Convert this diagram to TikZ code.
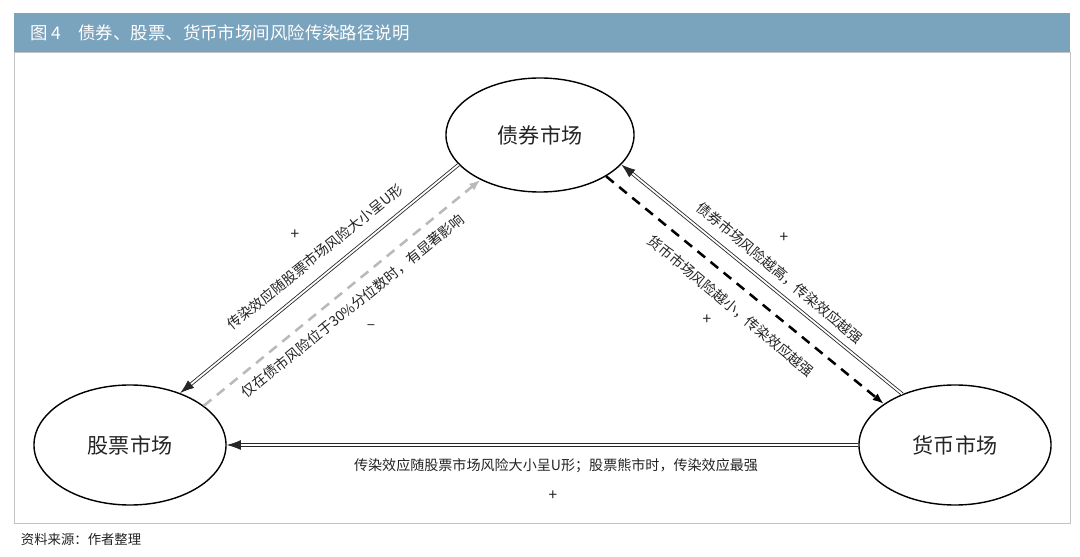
\documentclass[tikz,border=0pt]{standalone}
\usepackage{fontspec}
\setmainfont{Noto Sans CJK SC}
\usetikzlibrary{arrows.meta,positioning,calc,shapes.geometric}
\definecolor{barblue}{RGB}{122,163,190}
\definecolor{txtgray}{RGB}{35,35,35}
\definecolor{framegray}{RGB}{195,195,195}

\begin{document}
\begin{tikzpicture}[
		x=0.025cm, y=-0.025cm,
		>=Latex,
		market/.style={draw, ellipse, line width=1pt, text=txtgray, minimum width=4.8cm, minimum height=3cm, font=\fontsize{15}{18}\selectfont},
		link/.style={double, double distance=1.3pt, line width=0.6pt, draw=black!85, -{Latex[length=10pt,width=7pt]}},
		dlink/.style={dash pattern=on 7pt off 5pt, line width=1.8pt, -{Latex[length=8pt,width=6pt]}},
		lbl/.style={text=txtgray, inner sep=1pt, font=\fontsize{10}{12}\selectfont},
		sgn/.style={text=txtgray, inner sep=1pt, font=\fontsize{11}{12}\selectfont}
		]
		\useasboundingbox (0,0) rectangle (1080,557);
		
		% Title bar and frame
		\fill[barblue] (14,13) rectangle (1070,52);
		\draw[framegray, line width=0.6pt] (14,52) rectangle (1070,523);
		\node[anchor=west, text=white, font=\fontsize{12.4}{14}\selectfont] (title) at (26,33) {图\,4\quad 债券、股票、货币市场间风险传染路径说明};
		\node[anchor=west, text=txtgray, font=\fontsize{9.5}{11}\selectfont] (src) at (16,539) {资料来源：作者整理};
		
		% -------------------------
		% Markets
		% -------------------------
		\node[market, minimum width=4.7cm, minimum height=2.85cm] (bond) at (540,135) {债券市场};
		\node[market] (stock) at (130,445) {股票市场};
		\node[market] (money) at (955,445) {货币市场};
		
		% -------------------------
		% Bond <-> stock
		% -------------------------
		\draw[link] (bond.200) -- (stock.46);
		\draw[dlink, color=gray!55] (stock.28) -- (bond.217);
		\node[lbl, rotate=39] (bs) at (315,257) {传染效应随股票市场风险大小呈U形};
		\node[sgn] (bsp) at (295,235) {+};
		\node[lbl, rotate=39] (sb) at (353,306) {仅在债市风险位于30\%分位数时，有显著影响};
		\node[sgn] (sbm) at (371,327) {–};
		
		% -------------------------
		% Bond <-> money
		% -------------------------
		\draw[link] (money.136) -- (bond.340);
		\draw[dlink] (bond.328) -- (money.150);
		\node[lbl, rotate=-40] (mb) at (780,273) {债券市场风险越高，传染效应越强};
		\node[sgn] (mbp) at (784,238) {+};
		\node[lbl, rotate=-40] (bm) at (731,306) {货币市场风险越小，传染效应越强};
		\node[sgn] (bmp) at (707,320) {+};
		
		% -------------------------
		% Money -> stock
		% -------------------------
		\draw[link] (money.west) -- (stock.east);
		\node[lbl] (ms) at (556,466) {传染效应随股票市场风险大小呈U形；股票熊市时，传染效应最强};
		\node[sgn] (msp) at (553,496) {+};
		
	\end{tikzpicture}
\end{document}
